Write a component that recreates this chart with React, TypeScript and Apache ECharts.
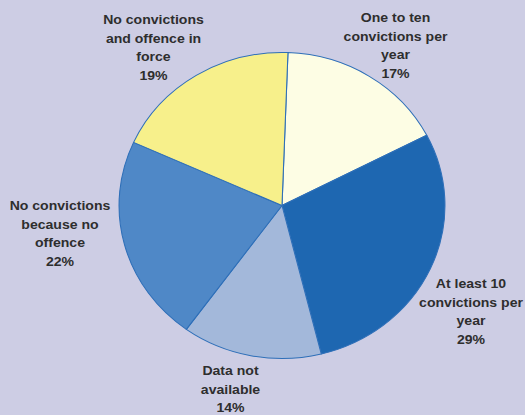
import React, { useEffect, useRef } from "react";
import * as echarts from "echarts";

const categories = [
  "One to ten\nconvictions per\nyear",
  "At least 10\nconvictions per\nyear",
  "Data not\navailable",
  "No convictions\nbecause no\noffence",
  "No convictions\nand offence in\nforce",
];
const shares = [17, 29, 14, 22, 19];
const colors = ["#fdfde4", "#1e67b1", "#a3b8da", "#4f88c7", "#f7f08b"];

// The reference pie is slightly wider than tall: draw in a narrower box and stretch horizontally.
const SX = 1.065;
const W = 525 / SX;

// label centre positions (layout only, in page pixels)
const LABEL_POS: [number, number][] = [
  [395.5, 45.5],
  [471, 311.5],
  [230.5, 389.5],
  [60, 233.5],
  [153.5, 47.5],
];

export default function App() {
  const ref = useRef<HTMLDivElement>(null);
  useEffect(() => {
    if (!ref.current) return;
    const chart = echarts.init(ref.current, null, { renderer: "svg" });
    chart.setOption({
      animation: false,
      backgroundColor: "#cdcde4",
      series: [
        {
          type: "pie",
          center: [282 / SX, 205.5],
          radius: 153,
          startAngle: 87.9,
          clockwise: true,
          avoidLabelOverlap: false,
          data: categories.map((name, i) => ({
            name,
            value: shares[i],
            itemStyle: { color: colors[i] },
          })),
          itemStyle: { borderColor: "#2e6fb8", borderWidth: 1 },
          emphasis: { disabled: true },
          labelLine: { show: false, length: 0, length2: 0 },
          label: {
            show: true,
            position: "outside",
            formatter: (p: any) =>
              p.name
                .split("\n")
                .map((l: string) => `{c|${l}}`)
                .join("\n") + `\n{c|${p.value}%}`,
            rich: {
              c: {
                align: "center",
                fontSize: 13.2,
                fontWeight: "bold",
                lineHeight: 18.5,
                color: "#2e2e2e",
                fontFamily: "Liberation Sans, Arial, sans-serif",
              },
            },
          },
          labelLayout: (params: any) => ({
            x: LABEL_POS[params.dataIndex][0] / SX,
            y: LABEL_POS[params.dataIndex][1],
            align: "center",
            verticalAlign: "middle",
          }),
        },
      ],
    });
    return () => chart.dispose();
  }, []);
  return (
    <div
      style={{
        position: "fixed",
        left: 0,
        top: 0,
        width: 525,
        height: 415,
        overflow: "hidden",
        background: "#cdcde4",
      }}
    >
      <div
        ref={ref}
        style={{
          width: W,
          height: 415,
          transform: `scaleX(${SX})`,
          transformOrigin: "0 0",
        }}
      />
    </div>
  );
}
